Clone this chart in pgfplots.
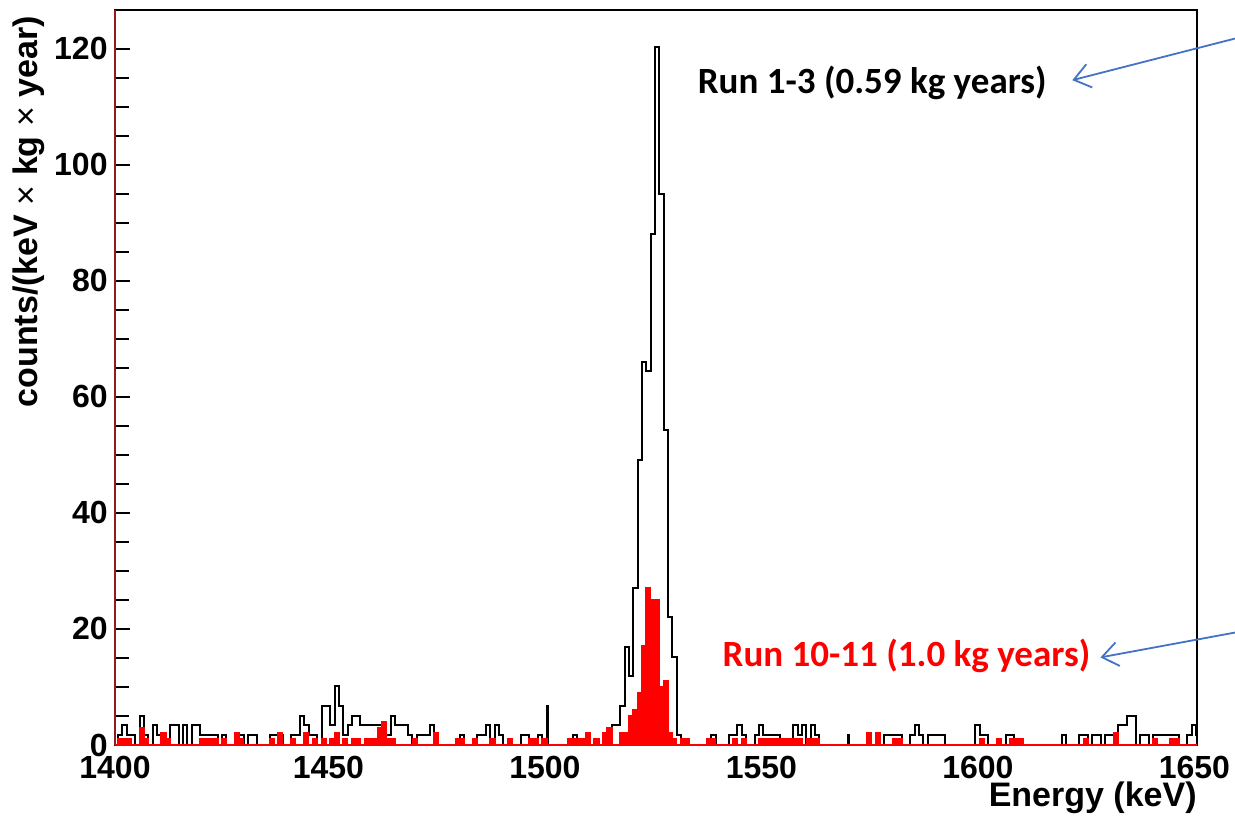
\documentclass[border=0pt]{standalone}
\usepackage{pgfplots}
\pgfplotsset{compat=1.18}
\usepackage{pgfplotstable}
\usepackage{fontspec}
\setmainfont{Liberation Sans}
\newfontfamily\carlito{Carlito}
\usetikzlibrary{arrows.meta}
\definecolor{arrowblue}{RGB}{68,114,196}
\definecolor{axisred}{RGB}{140,30,30}

% x = left bin edge (keV), b = Run 1-3, r = Run 10-11
\pgfplotstableread{
x b r
1400.7 0 0
1401.4 1.69 1
1402.4 3.39 1
1403.4 1.69 1
1404.4 1.69 0
1405.4 0 0
1406.4 5.08 3
1407.4 1.69 1
1408.4 0 0
1409.4 3.39 0
1410.4 1.69 0
1411.4 1.69 2
1412.4 0 1
1413.4 3.39 0
1414.4 3.39 0
1415.4 0 0
1416.4 3.39 0
1417.4 0 0
1418.4 3.39 0
1419.4 3.39 0
1420.4 1.69 1
1421.4 1.69 1
1422.4 1.69 1
1423.4 1.69 1
1424.4 0 0
1425.4 1.69 1
1426.4 0 0
1427.4 0 0
1428.4 1.69 2
1429.4 1.69 1
1430.4 0 0
1431.4 1.69 0
1432.4 1.69 0
1433.4 0 0
1434.4 0 0
1435.4 0 0
1436.4 1.69 1
1437.4 1.69 0
1438.4 1.69 2
1439.4 0 0
1440.4 0 0
1441.4 1.69 1
1442.4 1.69 0
1443.4 5.08 0
1444.4 3.39 2
1445.4 1.69 0
1446.4 1.69 1
1447.4 0 0
1448.4 6.78 1
1449.4 6.78 0
1450.4 3.39 1
1451.4 10.17 2
1452.4 6.78 0
1453.4 1.69 1
1454.4 3.39 0
1455.4 5.08 1
1456.4 5.08 1
1457.4 3.39 0
1458.4 3.39 1
1459.4 3.39 1
1460.4 3.39 1
1461.4 3.39 3
1462.4 3.39 4
1463.4 1.69 1
1464.4 5.08 1
1465.4 3.39 0
1466.4 3.39 0
1467.4 3.39 0
1468.4 1.69 0
1469.4 0 1
1470.4 1.69 0
1471.4 1.69 0
1472.4 1.69 0
1473.4 3.39 0
1474.4 1.69 2
1475.4 0 0
1476.4 0 0
1477.4 0 0
1478.4 0 0
1479.4 0 1
1480.4 1.69 1
1481.4 0 0
1482.4 0 0
1483.4 0 1
1484.4 1.69 0
1485.4 1.69 0
1486.4 3.39 0
1487.4 0 1
1488.4 3.39 0
1489.4 1.69 0
1490.4 0 0
1491.4 0 1
1492.4 0 0
1493.4 0 0
1494.4 1.69 0
1495.4 1.69 0
1496.4 0 1
1497.4 0 1
1498.4 1.69 0
1499.4 0 1
1500.4 6.78 0
1500.6 0 0
1501.4 0 0
1502.4 0 0
1503.4 0 0
1504.4 0 0
1505.4 0 1
1506.4 1.69 1
1507.4 0 1
1508.4 0 1
1509.4 0 2
1510.4 0 0
1511.4 0 1
1512.4 0 0
1513.4 1.69 2
1514.4 0 3
1515.4 3.39 0
1516.4 3.39 0
1517.4 6.78 2
1518.4 16.95 2
1519.4 11.86 5
1520.4 27.12 6
1521.4 49.15 9
1522.4 66.10 17
1523.4 64.41 27
1524.4 88.14 25
1525.4 120.34 25
1526.4 94.92 10
1527.4 54.24 11
1528.4 22.03 2
1529.4 15.25 1
1530.4 1.69 0
1531.4 0 1
1532.4 0 1
1533.4 0 0
1534.4 0 0
1535.4 0 0
1536.4 0 0
1537.4 0 1
1538.4 1.69 1
1539.4 0 0
1540.4 0 0
1541.4 0 0
1542.4 1.69 0
1543.4 1.69 1
1544.4 3.39 0
1545.4 1.69 1
1546.4 0 0
1547.4 0 0
1548.4 1.69 0
1549.4 3.39 1
1550.4 1.69 1
1551.4 1.69 1
1552.4 1.69 1
1553.4 1.69 1
1554.4 0 1
1555.4 0 1
1556.4 0 1
1557.4 3.39 1
1558.4 1.69 1
1559.4 3.39 0
1560.4 0 1
1561.4 3.39 1
1562.4 1.69 1
1563.4 0 0
1564.4 0 0
1565.4 0 0
1566.4 0 0
1567.4 0 0
1568.4 0 0
1569.4 0 0
1570.0 1.69 0
1570.2 0 0
1571.4 0 0
1572.4 0 0
1573.4 0 0
1574.4 1.69 2
1575.4 0 0
1576.4 1.69 2
1577.4 0 0
1578.4 1.69 0
1579.4 1.69 0
1580.4 1.69 1
1581.4 1.69 1
1582.4 0 0
1583.4 0 0
1584.4 1.69 0
1585.4 3.39 0
1586.4 1.69 0
1587.4 0 0
1588.4 1.69 0
1589.4 1.69 0
1590.4 1.69 0
1591.4 1.69 0
1592.4 0 0
1593.4 0 0
1594.4 0 0
1595.4 0 0
1596.4 0 0
1597.4 0 0
1598.4 0 0
1599.4 3.39 0
1600.4 1.69 1
1601.4 1.69 0
1602.4 0 0
1603.4 0 0
1604.4 0 1
1605.4 0 0
1606.4 1.69 0
1607.4 1.69 1
1608.4 0 1
1609.4 0 1
1610.4 0 0
1611.4 0 0
1612.4 0 0
1613.4 0 0
1614.4 0 0
1615.4 0 0
1616.4 0 0
1617.4 0 0
1618.4 0 0
1619.4 1.69 0
1620.4 0 0
1621.4 0 0
1622.4 0 0
1623.4 1.69 0
1624.4 1.69 1
1625.4 0 0
1626.4 1.69 0
1627.4 1.69 0
1628.4 0 0
1629.4 1.69 0
1630.4 1.69 0
1631.4 1.69 2
1632.4 3.39 0
1633.4 3.39 0
1634.4 5.08 0
1635.4 5.08 0
1636.4 0 0
1637.4 1.69 0
1638.4 1.69 0
1639.4 0 0
1640.4 1.69 1
1641.4 1.69 0
1642.4 1.69 0
1643.4 1.69 0
1644.4 1.69 1
1645.4 1.69 1
1646.4 0 0
1647.4 0 0
1648.4 1.69 0
1649.4 3.39 0
1650.4 1.69 0
1650.6 0 0
}\histdata

\begin{document}
\begin{tikzpicture}
\useasboundingbox (-57.5pt,-39pt) rectangle (560pt,372.5pt);
\begin{axis}[
  at={(0,0)}, anchor=south west,
  scale only axis, width=541pt, height=367.5pt,
  xmin=1400.7, xmax=1650.6, ymin=0, ymax=126.7,
  clip=false,
  axis line style={line width=0.9pt, black},
  xtick={1400.7,1450,1500,1550,1600,1650},
  xticklabels={1400,1450,1500,1550,1600,1650},
  ytick={0,20,...,120},
  minor y tick num=3,
  tick align=inside,
  xtick pos=bottom, ytick pos=left,
  xtick style={draw=none},
  ytick style={line width=0.8pt, black},
  major tick length=7.5pt, minor tick length=7pt,
  /pgf/number format/assume math mode=true,
  tick label style={font=\fontsize{16}{19}\selectfont\bfseries},
  yticklabel style={inner sep=0pt, xshift=-3.5pt},
  xticklabel style={inner sep=0pt, yshift=-5.5pt},
  label style={font=\fontsize{17}{20}\selectfont\bfseries},
  xlabel={Energy (keV)},
  xlabel style={at={(axis description cs:1,-0.072)}, anchor=east, inner sep=0pt},
  ylabel={counts/(keV {\mdseries ×} kg {\mdseries ×} year)},
  ylabel style={at={(axis description cs:-0.080,0.992)}, anchor=east, inner sep=0pt},
]
\addplot[const plot mark left, black, line width=1pt] table[x=x, y=b] {\histdata};
\addplot[const plot mark left, draw=red, fill=red, line width=0.9pt] table[x=x, y=r] {\histdata} \closedcycle;
\draw[axisred, line width=0.9pt] (rel axis cs:0,0) -- (rel axis cs:0,1);
\node[font=\carlito\bfseries\fontsize{18.5}{22}\selectfont, text=black] at (axis cs:1575.6,114.1) {Run 1-3 (0.59 kg years)};
\node[font=\carlito\bfseries\fontsize{18.5}{22}\selectfont, text=red] at (axis cs:1583.5,15.3) {Run 10-11 (1.0 kg years)};
\draw[-{Straight Barb[length=8pt,width=12pt]}, arrowblue, line width=0.9pt] (axis cs:1659.5,121.8) -- (axis cs:1621.8,114.6);
\draw[-{Straight Barb[length=8pt,width=12pt]}, arrowblue, line width=0.9pt] (axis cs:1659.5,19.4) -- (axis cs:1628.3,15.1);
\end{axis}
\end{tikzpicture}
\end{document}
